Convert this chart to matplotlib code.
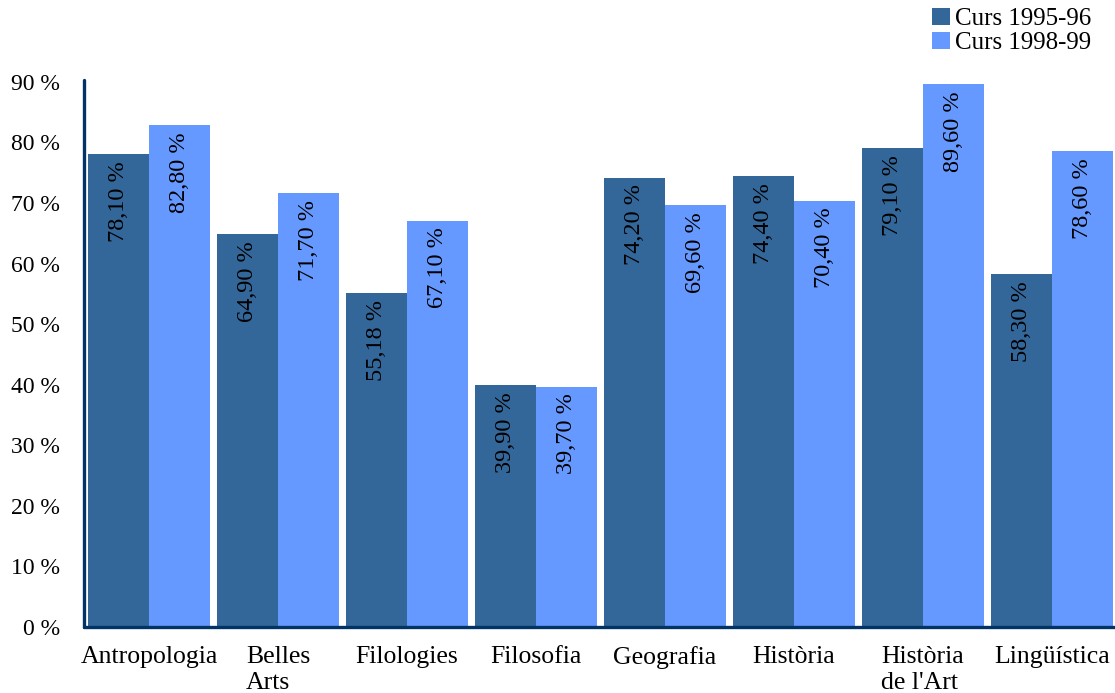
import matplotlib
matplotlib.use("Agg")
import matplotlib.pyplot as plt
import numpy as np

categories = ["Antropologia", "Belles\nArts", "Filologies", "Filosofia",
              "Geografia", "Història", "Història\nde l'Art", "Lingüística"]
curs_1995_96 = [78.10, 64.90, 55.18, 39.90, 74.20, 74.40, 79.10, 58.30]
curs_1998_99 = [82.80, 71.70, 67.10, 39.70, 69.60, 70.40, 89.60, 78.60]
labels_1995_96 = ["78,10 %", "64,90 %", "55,18 %", "39,90 %",
                  "74,20 %", "74,40 %", "79,10 %", "58,30 %"]
labels_1998_99 = ["82,80 %", "71,70 %", "67,10 %", "39,70 %",
                  "69,60 %", "70,40 %", "89,60 %", "78,60 %"]
y_ticks = [0, 10, 20, 30, 40, 50, 60, 70, 80, 90]
y_tick_labels = [f"{v} %" for v in y_ticks]
series_names = ["Curs 1995-96", "Curs 1998-99"]

plt.rcParams["font.family"] = ["Liberation Serif", "DejaVu Serif"]

fig = plt.figure(figsize=(11.15, 6.93), dpi=100)
ax = fig.add_axes([0.0753, 0.0952, 0.9247, 0.7894])

dark = "#336699"
light = "#6699FF"
axis_col = "#003366"
w = 0.473
x = np.arange(len(categories))

b1 = ax.bar(x - w / 2, curs_1995_96, width=w, color=dark, label=series_names[0])
b2 = ax.bar(x + w / 2, curs_1998_99, width=w, color=light, label=series_names[1])

for xs, vals, labs in ((x - w / 2, curs_1995_96, labels_1995_96),
                       (x + w / 2, curs_1998_99, labels_1998_99)):
    for xi, v, t in zip(xs, vals, labs):
        ax.annotate(t, (xi, v), xytext=(0, -5), textcoords="offset points",
                    rotation=90, ha="center", va="top", fontsize=17.5,
                    color="black")

ax.set_xlim(-0.504, 7.49)
ax.set_ylim(0, 90.3)
ax.set_yticks(y_ticks)
ax.set_yticklabels(y_tick_labels, fontsize=17)
ax.set_xticks(x)
ax.set_xticklabels(categories, fontsize=18.5, multialignment="left",
                   linespacing=1.2)
ax.tick_params(axis="y", length=0, pad=17)
ax.tick_params(axis="x", length=0, pad=14)

for s in ("top", "right"):
    ax.spines[s].set_visible(False)
for s in ("left", "bottom"):
    ax.spines[s].set_color(axis_col)
    ax.spines[s].set_linewidth(2.4)
    ax.spines[s].set_capstyle("round")

fig.legend(handles=[b1, b2], labels=series_names, loc="upper left",
           bbox_to_anchor=(0.8206, 1.014), frameon=False, fontsize=18,
           handlelength=0.7, handleheight=0.7, handletextpad=0.2,
           labelspacing=0.05, borderpad=0.2)

fig.savefig("out.png", dpi=100)
